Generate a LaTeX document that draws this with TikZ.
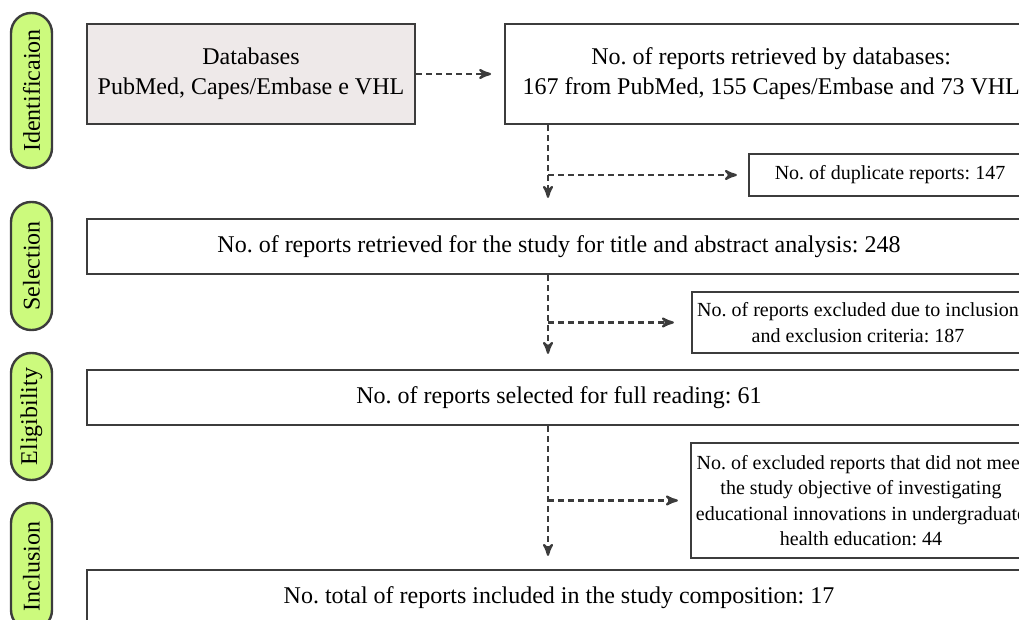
\documentclass[tikz,border=0pt]{standalone}
\usepackage{fontspec}
\setmainfont{Liberation Serif}
\usepackage{xcolor}
\usepackage{tikz}
\usetikzlibrary{arrows,positioning}
\definecolor{sidegreen}{RGB}{204,250,125}
\definecolor{dbgray}{RGB}{238,233,233}
\definecolor{linegray}{RGB}{60,60,60}
\frenchspacing

\begin{document}
\begin{tikzpicture}[x=0.5pt,y=-0.5pt,>=stealth',
    box node/.style={draw=linegray,line width=1.1pt,align=center,inner sep=0pt,font=\fontsize{12}{15}\selectfont},
    small node/.style={box node,font=\fontsize{10}{12.75}\selectfont},
    side node/.style={draw=linegray,line width=1.2pt,fill=sidegreen,rounded corners=10pt,rotate=90,minimum height=20.5pt,inner sep=0pt,font=\fontsize{12}{14}\selectfont},
    flow/.style={->,dash pattern=on 3pt off 2pt,line width=1.1pt,draw=linegray}]
    \useasboundingbox (0,0) rectangle (1019,620);
    \clip (0,0) rectangle (1019,620);

    % phase labels
    \node[side node,minimum width=77.5pt] (id) at (31.5,90.5) {Identificaion};
    \node[side node,minimum width=64pt] (sl) at (31.5,266) {Selection};
    \node[side node,minimum width=63.5pt] (el) at (31.5,416.5) {Eligibility};
    \node[side node,minimum width=63.5pt] (in) at (31.5,566.5) {Inclusion};

    % boxes
    \node[box node,fill=dbgray,minimum width=164pt,minimum height=50pt] (db) at (251,74) {Databases\\PubMed, Capes/Embase e VHL};
    \node[box node,minimum width=266pt,minimum height=50pt] (ret) [right=44pt of db] {No. of reports retrieved by databases:\\167 from PubMed, 155 Capes/Embase and 73 VHL};
    \node[small node,minimum width=141pt,minimum height=21pt] (dup) at (890,175) {No. of duplicate reports: 147};
    \node[box node,minimum width=472pt,minimum height=27.5pt] (sel) at (559,246.5) {No. of reports retrieved for the study for title and abstract analysis: 248};
    \node[small node,minimum width=166pt,minimum height=30.5pt] (exc1) at (858,322.5) {No. of reports excluded due to inclusion\\and exclusion criteria: 187};
    \node[box node,minimum width=472pt,minimum height=27.5pt] (eli) at (559,397.5) {No. of reports selected for full reading: 61};
    \node[small node,minimum width=170pt,minimum height=57.5pt] (exc2) at (861,500.5) {No. of excluded reports that did not meet\\the study objective of investigating\\educational innovations in undergraduate\\health education: 44};
    \node[box node,minimum width=472pt,minimum height=27.5pt] (inc) at (559,597.5) {No. total of reports included in the study composition: 17};

    \coordinate (trunk) at (548,0);

    \draw[flow,shorten >=6.5pt] (db.east) -- (db.east -| ret.west);
    \draw[flow,shorten >=10pt] (ret.south -| trunk) -- (sel.north -| trunk);
    \draw[flow,shorten >=5.5pt] (dup.west -| trunk) -- (dup.west);
    \draw[flow,shorten >=7.5pt] (sel.south -| trunk) -- (eli.north -| trunk);
    \draw[flow,shorten >=8.5pt] (exc1.west -| trunk) -- (exc1.west);
    \draw[flow,shorten >=6.5pt] (eli.south -| trunk) -- (inc.north -| trunk);
    \draw[flow,shorten >=6pt] (exc2.west -| trunk) -- (exc2.west);
  \end{tikzpicture}
\end{document}
